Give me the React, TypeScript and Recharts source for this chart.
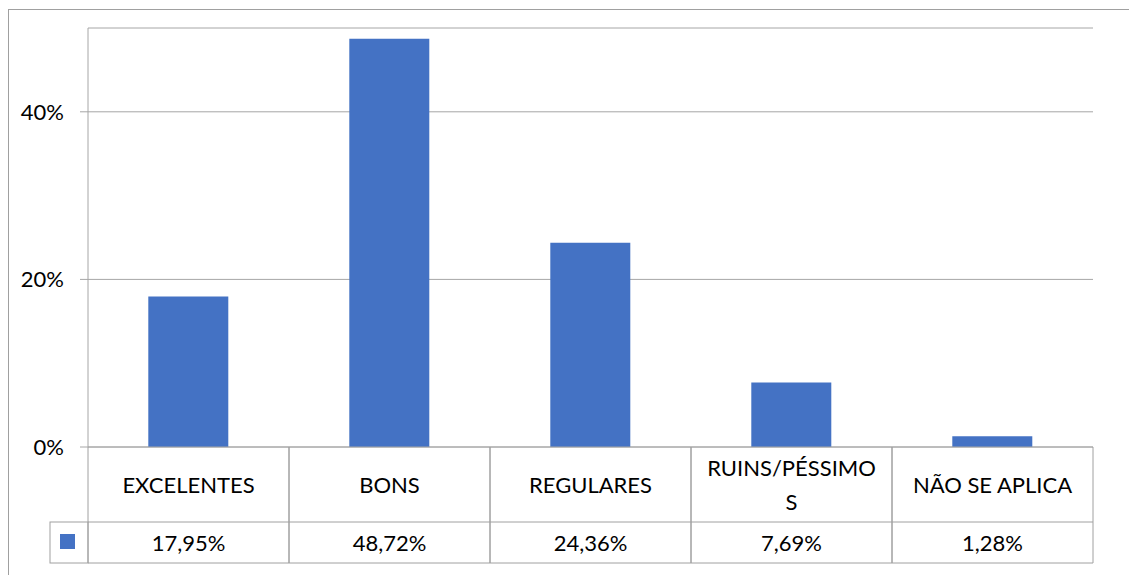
import { Bar, BarChart, CartesianGrid, XAxis, YAxis } from "recharts"

const categories = ["EXCELENTES", "BONS", "REGULARES", "RUINS/PÉSSIMOS", "NÃO SE APLICA"]
const valores = [17.95, 48.72, 24.36, 7.69, 1.28]
const valorLabels = ["17,95%", "48,72%", "24,36%", "7,69%", "1,28%"]
const yTicks = [0, 20, 40]

const data = categories.map((c, i) => ({ categoria: c, valor: valores[i] }))

const W = 1129
const H = 575
const margin = { top: 28, right: 36, left: 8, bottom: 12 }
const yAxisWidth = 80
const xAxisHeight = 116
const plotWidth = W - margin.left - margin.right - yAxisWidth
const cellW = plotWidth / categories.length
const row1 = 75
const FONT = "Lato, 'Open Sans', sans-serif"
const FS = 22
const border = "#a0a0a0"
const barColor = "#4472c4"

function wrap(text: string, max: number) {
  const lines: string[] = []
  let s = text
  while (s.length > max) {
    lines.push(s.slice(0, max))
    s = s.slice(max)
  }
  lines.push(s)
  return lines
}

function TableTick(props: any) {
  const { x, y, payload } = props
  const idx = payload.index
  const left = x - cellW / 2
  const right = x + cellW / 2
  const bottom = y + xAxisHeight
  const lines = wrap(String(payload.value), 13)
  const lh = 34
  const startY = y + row1 / 2 - ((lines.length - 1) * lh) / 2
  return (
    <g>
      <line x1={left} y1={y} x2={left} y2={bottom} stroke={border} />
      <line x1={right} y1={y} x2={right} y2={bottom} stroke={border} />
      <line x1={left} y1={y + row1} x2={right} y2={y + row1} stroke={border} />
      <line x1={left} y1={bottom} x2={right} y2={bottom} stroke={border} />
      {lines.map((l, i) => (
        <text key={i} x={x} y={startY + i * lh} textAnchor="middle" dominantBaseline="central"
          fontFamily={FONT} fontSize={FS} fill="#000">{l}</text>
      ))}
      <text x={x} y={y + row1 + (xAxisHeight - row1) / 2} textAnchor="middle" dominantBaseline="central"
        fontFamily={FONT} fontSize={FS} fill="#000">{valorLabels[idx]}</text>
      {idx === 0 && (
        <g>
          <rect x={left - 38} y={y + row1} width={38} height={xAxisHeight - row1} fill="none" stroke={border} />
          <rect x={left - 28} y={y + row1 + 12} width={15} height={15} fill={barColor} />
        </g>
      )}
    </g>
  )
}

export default function App() {
  return (
    <div style={{ position: "absolute", left: 0, top: 0, width: W, height: H, background: "#fff" }}>
      <div style={{ position: "absolute", left: 8, top: 9, width: W, height: H, borderLeft: "1px solid #a0a0a0", borderTop: "1px solid #a0a0a0" }} />
      <BarChart width={W} height={H} data={data} margin={margin} barCategoryGap="30%">
        <CartesianGrid vertical={false} stroke="#a6a6a6" />
        <XAxis dataKey="categoria" height={xAxisHeight} tickLine={false} tickSize={0} tickMargin={0}
          axisLine={{ stroke: "#a6a6a6" }} tick={<TableTick />} interval={0} />
        <YAxis domain={[0, 50]} ticks={yTicks} width={yAxisWidth} tickSize={8} tickMargin={16}
          tickLine={{ stroke: "#a6a6a6" }} axisLine={{ stroke: "#a6a6a6" }}
          tickFormatter={(v: number) => `${v}%`}
          tick={{ fontFamily: FONT, fontSize: FS, fill: "#000" }} />
        <Bar dataKey="valor" fill={barColor} isAnimationActive={false} />
      </BarChart>
    </div>
  )
}
